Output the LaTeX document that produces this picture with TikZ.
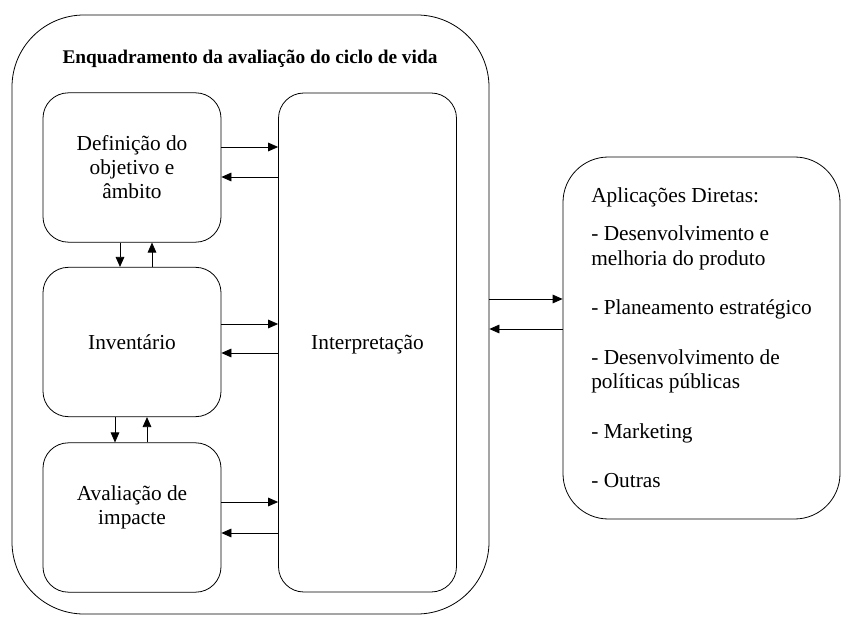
\documentclass[tikz,border=0pt]{standalone}
\usepackage{fontspec}
\setmainfont{Liberation Serif}
\newfontfamily\timesfont{Liberation Serif}
\usepackage{xcolor}
\usepackage{tikz}
\usetikzlibrary{arrows.meta, positioning}
\tikzstyle{arrow} = [line width=0.6pt,->,>={Triangle[length=7.5pt,width=6.5pt]}]

\begin{document}
\begin{tikzpicture}[
    x=0.75pt, y=-0.75pt,
    box/.style={draw, line width=0.6pt, rectangle, rounded corners=19pt, minimum width=133.5pt, minimum height=112pt, align=center, font=\timesfont\fontsize{16pt}{18pt}\selectfont},
    frame/.style={draw, line width=0.6pt, rectangle, rounded corners=54pt, minimum width=357.75pt, minimum height=449.25pt},
    apps/.style={draw, line width=0.6pt, rectangle, rounded corners=34pt, minimum width=207.75pt, minimum height=271.5pt, align=left, font=\timesfont\fontsize{16pt}{18.5pt}\selectfont}
]
\useasboundingbox (0,0) rectangle (843,617);

\node[frame] (frame) at (250.5,314.5) {};
\node[font=\timesfont\fontsize{14.5pt}{17pt}\selectfont\bfseries] (title) at (250,59) {Enquadramento da avaliação do ciclo de vida};

\node[box] (objetivo) at (132,167.5) {Definição do\\objetivo e\\âmbito};
\node[box] (inventario) at (132,342) {Inventário};
\node[box, text depth=18pt] (impacte) at (132,517.5) {Avaliação de\\impacte};
\node[box, minimum height=374.25pt, text depth=0pt] (interp) at (367.5,342.5) {Interpretação};

\node[apps] (aplic) at (701.5,338) {Aplicações Diretas:\\[10pt]
- Desenvolvimento e\\melhoria do produto\\[18.5pt]
- Planeamento estratégico\\[18.5pt]
- Desenvolvimento de\\políticas públicas\\[18.5pt]
- Marketing\\[18.5pt]
- Outras};

% fases <-> interpretacao
\draw[arrow] (objetivo.east |- 0,147) -- (interp.west |- 0,147);
\draw[arrow] (interp.west |- 0,177) -- (objetivo.east |- 0,177);
\draw[arrow] (inventario.east |- 0,324) -- (interp.west |- 0,324);
\draw[arrow] (interp.west |- 0,353) -- (inventario.east |- 0,353);
\draw[arrow] (impacte.east |- 0,502) -- (interp.west |- 0,502);
\draw[arrow] (interp.west |- 0,533) -- (impacte.east |- 0,533);

% entre fases
\draw[arrow] (objetivo.south -| 120,0) -- (inventario.north -| 120,0);
\draw[arrow] (inventario.north -| 152,0) -- (objetivo.south -| 152,0);
\draw[arrow] (inventario.south -| 115,0) -- (impacte.north -| 115,0);
\draw[arrow] (impacte.north -| 147,0) -- (inventario.south -| 147,0);

% enquadramento <-> aplicacoes
\draw[arrow] (frame.east |- 0,299) -- (aplic.west |- 0,299);
\draw[arrow] (aplic.west |- 0,329) -- (frame.east |- 0,329);
\end{tikzpicture}
\end{document}
